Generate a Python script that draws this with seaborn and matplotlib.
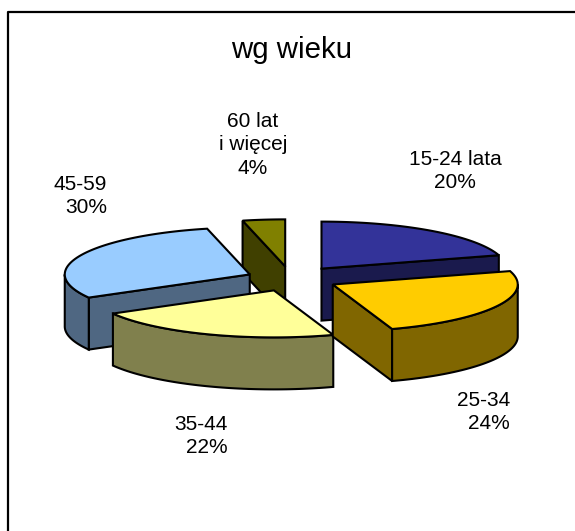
import numpy as np
import matplotlib
matplotlib.use('Agg')
import matplotlib.pyplot as plt
import seaborn as sns

# dane
age_labels = ['15-24 lata', '25-34', '35-44', '45-59', '60 lat\ni więcej']
values = [20.4, 24.4, 22.0, 29.5, 3.7]
top_colors = ['#333399', '#FFCC00', '#FFFF99', '#99CCFF', '#808000']
wall_colors = ['#1A1A4D', '#806600', '#80804D', '#4F6782', '#404000']

# wyglad
explode = [51, 47, 48, 45, 50]
draw_order = [4, 0, 3, 2, 1]
label_pos = [(455, 171, 'center'), (510, 412, 'right'), (228, 436, 'right'), (107, 196, 'right'), (253, 145, 'center')]
cx, cy = 291, 279
rx, ry, depth = 185, 47, 52

sns.set_style('white')
plt.rcParams['font.family'] = ['Liberation Sans', 'DejaVu Sans']
palette = sns.color_palette(top_colors)
walls = sns.color_palette(wall_colors)

fig = plt.figure(figsize=(5.75, 5.31), dpi=100)
ax = fig.add_axes([0, 0, 1, 1])
ax.set_xlim(0, 575)
ax.set_ylim(531, 0)
ax.axis('off')

# ramka wykresu
ax.plot([8, 8, 580], [540, 12, 12], color='black', lw=1.6)

edges = np.cumsum([0] + values) / sum(values) * 2 * np.pi


def arc(x0, y0, a, b):
    t = np.linspace(a, b, 60)
    return x0 + rx * np.sin(t), y0 - ry * np.cos(t)


def wall(xs, ys, color):
    px = np.concatenate([xs, xs[::-1]])
    py = np.concatenate([ys, ys[::-1] + depth])
    ax.fill(px, py, facecolor=color, edgecolor='black', lw=1.5)


for i in draw_order:
    a, b = edges[i], edges[i + 1]
    mid = (a + b) / 2
    x0 = cx + explode[i] * np.sin(mid)
    y0 = cy - explode[i] * np.cos(mid) * ry / rx

    # sciany przy cieciach
    if np.sin(a) < -1e-6:
        wall(np.array([x0, x0 + rx * np.sin(a)]), np.array([y0, y0 - ry * np.cos(a)]), walls[i])
    if np.sin(b) > 1e-6:
        wall(np.array([x0, x0 + rx * np.sin(b)]), np.array([y0, y0 - ry * np.cos(b)]), walls[i])

    # sciana zewnetrzna - tylko przednia czesc
    lo, hi = max(a, np.pi / 2), min(b, 3 * np.pi / 2)
    if hi > lo:
        xs, ys = arc(x0, y0, lo, hi)
        wall(xs, ys, walls[i])

    # gora
    xs, ys = arc(x0, y0, a, b)
    ax.fill(np.r_[x0, xs], np.r_[y0, ys], facecolor=palette[i], edgecolor='black', lw=1.5)

# podpisy
for lab, v, (x, y, ha) in zip(age_labels, values, label_pos):
    ax.text(x, y, f'{lab}\n{v:.0f}%', ha=ha, va='center', ma=ha, fontsize=15, color='black', linespacing=1.28)

ax.text(292, 50, 'wg wieku', ha='center', va='center', fontsize=21.2, color='black')

fig.savefig('out.png', dpi=100)
